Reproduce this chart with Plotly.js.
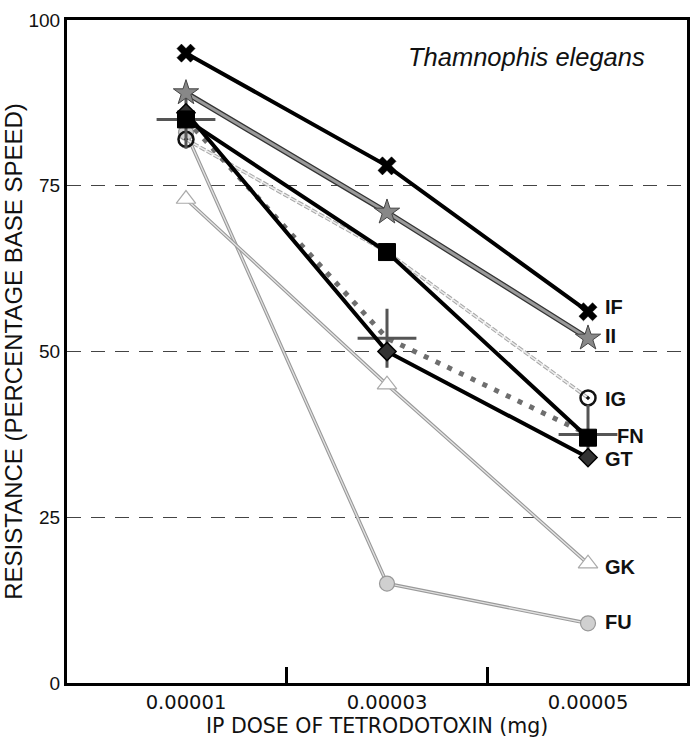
<!DOCTYPE html>
<html>
<head>
<meta charset="utf-8">
<script src="https://cdn.plot.ly/plotly-3.0.1.min.js"></script>
<style>html,body{margin:0;padding:0;background:#fff;}#chart{width:690px;height:751px;}</style>
</head>
<body>
<div id="chart"></div>
<script>
// ---- data ----
const doses = [0.00001, 0.00003, 0.00005];
const doseLabels = ["0.00001", "0.00003", "0.00005"];
const minorTicks = [0.00002, 0.00004];
const yTicks = [0, 25, 50, 75, 100];

const IF = [95, 78, 56];
const II = [89, 71, 52];
const IG = [82, 65, 43];
const FN = [85, 65, 37];
const GT = [86, 50, 34];
const GK = [73, 45, 18];
const FU = [83, 15, 9];
const MEAN = [85, 52, 37.5];   // dotted series with cross markers

const labelNames = ["IF", "II", "IG", "FN", "GT", "GK", "FU"];
const labelY = [56.7, 52.3, 42.8, 37.3, 33.8, 17.5, 9.2];

// ---- traces ----
function tr(y, line, marker, mode) {
  return {x: doses, y: y, mode: mode || 'lines+markers', line: line, marker: marker,
          showlegend: false, hoverinfo: 'skip', cliponaxis: false};
}
const traces = [
  tr(FU, {color: '#9a9a9a', width: 3.5}, {size: 1}, 'lines'),
  tr(FU, {color: '#e2e2e2', width: 1.3}, {symbol: 'circle', size: 15, color: '#d0d0d0', line: {color: '#999', width: 1.2}}),
  tr(GK, {color: '#9a9a9a', width: 3.5}, {size: 1}, 'lines'),
  tr(GK, {color: '#e6e6e6', width: 1.3}, {symbol: 'triangle-up', size: 17, color: '#fff', line: {color: '#aaa', width: 1.2}}),
  tr(IG, {color: '#a8a8a8', width: 3.5, dash: '6px,2px'}, {size: 1}, 'lines'),
  tr(IG, {color: '#eeeeee', width: 1.4}, {symbol: 'circle-open-dot', size: 15, color: '#111', line: {color: '#111', width: 2.5}}),
  tr(MEAN, {color: '#6e6e6e', width: 5, dash: '5px,8px'}, {symbol: 'cross-thin-open', size: 42, color: '#555', line: {color: '#555', width: 3}}),
  tr(GT, {color: '#000', width: 4}, {symbol: 'diamond', size: 14, color: '#333', line: {color: '#000', width: 1.5}}),
  tr(FN, {color: '#000', width: 4}, {symbol: 'square', size: 17, color: '#000', line: {color: '#000', width: 1}}),
  tr(II, {color: '#333', width: 5.5}, {size: 1}, 'lines'),
  tr(II, {color: '#9a9a9a', width: 3}, {symbol: 'star', size: 19, color: '#888', line: {color: '#444', width: 1}}),
  tr(IF, {color: '#000', width: 4}, {symbol: 'x', size: 16, color: '#000', line: {color: '#000', width: 0.5}})
];

const annotations = labelNames.map((n, i) => ({
  x: doses[2], y: labelY[i], xref: 'x', yref: 'y', text: n,
  showarrow: false, xanchor: 'left', yanchor: 'middle', xshift: n === 'FN' ? 27 : 15,
  font: {family: 'Liberation Sans, Arial, sans-serif', size: 20, color: '#111', weight: 'bold'}
}));
annotations.push({
  x: 0.0000439, y: 94.4, xref: 'x', yref: 'y', text: '<i>Thamnophis elegans</i>',
  showarrow: false, xanchor: 'center', yanchor: 'middle',
  font: {family: 'Liberation Sans, Arial, sans-serif', size: 25.5, color: '#111'}
});
// x-axis title
annotations.push({
  x: 0.5, y: 0, xref: 'paper', yref: 'paper', text: 'IP DOSE OF TETRODOTOXIN (mg)',
  showarrow: false, xanchor: 'center', yanchor: 'middle', yshift: -43,
  font: {family: 'DejaVu Sans, sans-serif', size: 20.5, color: '#111'}
});

const layout = {
  width: 690, height: 751,
  margin: {l: 67, r: 3, t: 20, b: 68},
  paper_bgcolor: '#fff', plot_bgcolor: '#fff',
  font: {family: 'Liberation Sans, Arial, sans-serif', color: '#111'},
  xaxis: {
    range: [-0.00000184, 0.00005985], tickvals: doses, ticktext: doseLabels, ticks: '',
    tickfont: {family: 'DejaVu Sans, sans-serif', size: 19.5, color: '#111'},
    minor: {tickvals: minorTicks, ticks: 'inside', ticklen: 16, tickwidth: 2.5, tickcolor: '#000', showgrid: false},
    showgrid: false, zeroline: false,
    showline: true, linecolor: '#000', linewidth: 3, mirror: true
  },
  yaxis: {
    range: [0, 100], tickvals: yTicks, ticks: '', tickfont: {size: 19, color: '#111'},
    showgrid: true, gridcolor: '#444', gridwidth: 1.3, griddash: '14px,10px',
    zeroline: false, showline: true, linecolor: '#000', linewidth: 3, mirror: true,
    title: {text: 'RESISTANCE (PERCENTAGE BASE SPEED)', font: {size: 24, color: '#111'}, standoff: 5}
  },
  annotations: annotations
};

Plotly.newPlot('chart', traces, layout, {displayModeBar: false, staticPlot: true});
</script>
</body>
</html>
